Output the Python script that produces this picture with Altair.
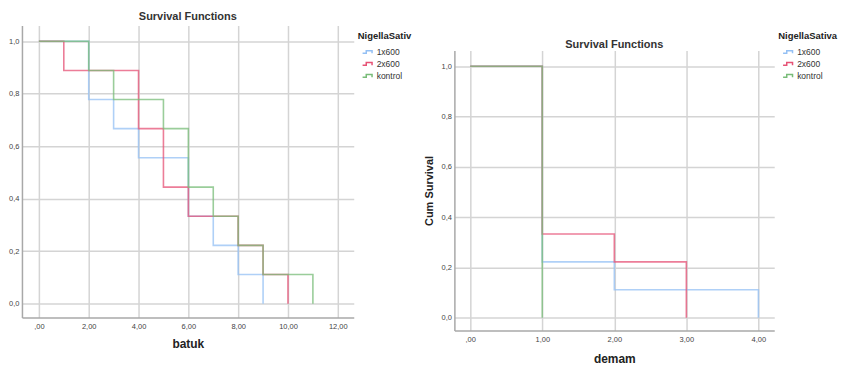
import altair as alt
import pandas as pd

groups = ["1x600", "2x600", "kontrol"]
colors = ["#94c0f4", "#e65275", "#78bc78"]

# batuk (left panel)
batuk_t_1x600 = [0, 2, 3, 4, 6, 7, 8, 9]
batuk_s_1x600 = [1.0, 0.778, 0.667, 0.556, 0.333, 0.222, 0.111, 0.0]
batuk_t_2x600 = [0, 1, 4, 5, 6, 8, 9, 10]
batuk_s_2x600 = [1.0, 0.889, 0.667, 0.444, 0.333, 0.222, 0.111, 0.0]
batuk_t_kontrol = [0, 2, 3, 5, 6, 7, 8, 9, 11]
batuk_s_kontrol = [1.0, 0.889, 0.778, 0.667, 0.444, 0.333, 0.222, 0.111, 0.0]

# demam (right panel)
demam_t_1x600 = [0, 1, 2, 4]
demam_s_1x600 = [1.0, 0.222, 0.111, 0.0]
demam_t_2x600 = [0, 1, 2, 3]
demam_s_2x600 = [1.0, 0.333, 0.222, 0.0]
demam_t_kontrol = [0, 1]
demam_s_kontrol = [1.0, 0.0]

batuk_x_ticks = [0, 2, 4, 6, 8, 10, 12]
demam_x_ticks = [0, 1, 2, 3, 4]
y_ticks = [0.0, 0.2, 0.4, 0.6, 0.8, 1.0]


def build(ts, ss):
    rows = []
    for g, t, s in zip(groups, ts, ss):
        for i, (a, b) in enumerate(zip(t, s)):
            rows.append({"group": g, "t": a, "s": b, "order": i})
    return pd.DataFrame(rows)


batuk_df = build([batuk_t_1x600, batuk_t_2x600, batuk_t_kontrol],
                 [batuk_s_1x600, batuk_s_2x600, batuk_s_kontrol])
demam_df = build([demam_t_1x600, demam_t_2x600, demam_t_kontrol],
                 [demam_s_1x600, demam_s_2x600, demam_s_kontrol])

xlab = "datum.value == 0 ? ',00' : replace(format(datum.value, '.2f'), '.', ',')"
ylab = "replace(format(datum.value, '.1f'), '.', ',')"
step_symbol = "M-1,0.22 L-0.4,0.22 L-0.4,-0.22 L0.55,-0.22 L0.55,0.22"


def panel(df, xname, xticks, xdom, ydom, ytitle, legend_title, w, h, ttl, xtpad, toff):
    return alt.Chart(df, title=alt.Title(ttl, fontSize=11, fontWeight="bold",
                                         color="#333333", offset=toff)).mark_line(
        interpolate="step-after", strokeWidth=1.6, strokeOpacity=0.75
    ).encode(
        x=alt.X("t:Q", title=xname, scale=alt.Scale(domain=xdom, nice=False, zero=False),
                axis=alt.Axis(values=xticks, labelExpr=xlab, titleFontSize=12,
                              titleFontWeight="bold", titlePadding=xtpad)),
        y=alt.Y("s:Q", title=ytitle, scale=alt.Scale(domain=ydom, nice=False, zero=False),
                axis=alt.Axis(values=y_ticks, labelExpr=ylab, titleFontSize=11,
                              labelPadding=3, titleFontWeight="bold", titlePadding=7)),
        color=alt.Color("group:N", title=legend_title,
                        scale=alt.Scale(domain=groups, range=colors),
                        legend=alt.Legend(symbolType=step_symbol, symbolSize=150,
                                          symbolStrokeWidth=1.5, orient="none",
                                          legendX=w + 4, legendY=5,
                                          titleFontSize=9.5, titleFontWeight="bold",
                                          labelFontSize=8.5, rowPadding=0,
                                          symbolOffset=4, labelOffset=1,
                                          titlePadding=5, padding=0)),
        order="order:Q",
        detail="group:N",
    ).properties(width=w, height=h)


left = panel(batuk_df, "batuk", batuk_x_ticks, [-0.68, 12.64], [-0.053, 1.06],
             None, "NigellaSativ", 333, 293, "Survival Functions", 9, 4)
right = panel(demam_df, "demam", demam_x_ticks, [-0.22, 4.22], [-0.051, 1.063],
              "Cum Survival", "NigellaSativa", 321, 281, "Survival Functions", 11, 1)

spacer = alt.Chart(pd.DataFrame({"a": [0]})).mark_point(opacity=0).encode(
    x=alt.value(0), y=alt.value(0)
).properties(width=10, height=13)

right_col = alt.vconcat(spacer, right, spacing=0)

chart = alt.hconcat(left, right_col, spacing=11).resolve_scale(color="independent").configure(
    padding={"left": 0, "top": 2, "right": 0, "bottom": 0},
    font="Liberation Sans",
).configure_view(strokeWidth=0).configure_axis(
    grid=True, gridColor="#d4d4d4", gridWidth=1.5,
    domainColor="#a8a8a8", domainWidth=1.5, ticks=False,
    labelFontSize=7.5, labelColor="#444444", labelPadding=5, titleColor="#222222",
).configure_legend(labelColor="#333333", titleColor="#222222")

chart.save("out.html", embed_options={"renderer": "svg", "actions": False})
